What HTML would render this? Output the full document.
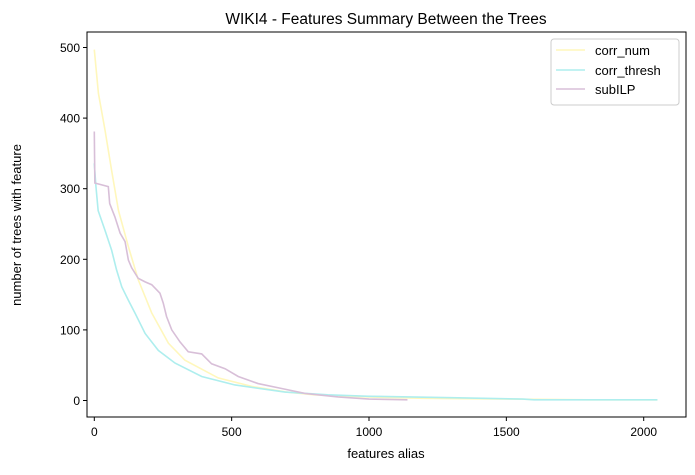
<!DOCTYPE html>
<html><head><meta charset="utf-8"><style>
html,body{margin:0;padding:0;background:#fff;}
svg text{font-family:"Liberation Sans","DejaVu Sans",sans-serif;fill:#000;}
</style></head><body>
<svg id="chart" width="695" height="470" viewBox="0 0 695 470" xmlns="http://www.w3.org/2000/svg">
<rect x="0" y="0" width="695" height="470" fill="#fff"/>
<text x="386" y="24" font-size="15.5" text-anchor="middle">WIKI4 - Features Summary Between the Trees</text>
<text x="386" y="458" font-size="13" text-anchor="middle">features alias</text>
<text transform="translate(21,225) rotate(-90)" font-size="13" text-anchor="middle">number of trees with feature</text>
<g id="xticks"></g>
<g id="yticks"></g>
<g id="series"></g>
<rect x="87" y="32" width="599" height="385" fill="none" stroke="#000" stroke-width="1"/>
<g>
<rect x="551" y="39" width="128" height="66" rx="3" fill="#fff" fill-opacity="0.8" stroke="#ccc"/>
<g><line x1="556" y1="50" x2="585" y2="50" stroke="#fff7bc" stroke-width="1.5"/><text x="595" y="55" font-size="13">corr_num</text></g>
<g><line x1="556" y1="70" x2="585" y2="70" stroke="#aeeeee" stroke-width="1.5"/><text x="595" y="75" font-size="13">corr_thresh</text></g>
<g><line x1="556" y1="89" x2="585" y2="89" stroke="#d8bfd8" stroke-width="1.5"/><text x="595" y="94" font-size="13">subILP</text></g>
</g>
</svg>
<script>
const xTicks=[0,500,1000,1500,2000];
const yTicks=[0,100,200,300,400,500];
const seriesNames=["corr_num","corr_thresh","subILP"];
const corrNumX=[0,15,39,63,88,124,160,209,270,330,451,573,700,800,1000,1200,1500,1800,2050];
const corrNumY=[497,435,383,326,269,218,171,124,81,57,32,20,12,8,5,3,2,1,1];
const corrThreshX=[0,1,6,14,39,63,81,100,124,148,185,233,294,391,512,694,850,1000,1300,1560,1600,2050];
const corrThreshY=[336,330,303,269,241,213,185,161,142,124,95,71,53,34,22,12,8,6,4,2,1,1];
const subIlpX=[0,2,51,56,75,94,112,124,136,160,185,209,239,251,263,282,312,342,391,427,476,524,596,682,767,887,1000,1140];
const subIlpY=[381,308,303,279,260,237,225,199,188,173,168,164,152,138,119,100,83,69,66,52,45,34,24,17,10,5,2,1];
const NS="http://www.w3.org/2000/svg";
function xs(v){return 94.3+v*0.2747;}
function ys(v){return 400.5-v*0.706;}
const xg=document.getElementById('xticks');
xTicks.forEach(t=>{
 const l=document.createElementNS(NS,'line');
 l.setAttribute('x1',xs(t));l.setAttribute('x2',xs(t));l.setAttribute('y1',417);l.setAttribute('y2',421);l.setAttribute('stroke','#000');
 
 
 xg.appendChild(l);
 const tx=document.createElementNS(NS,'text');
 tx.setAttribute('x',xs(t));tx.setAttribute('y',436);tx.setAttribute('font-size','12');tx.setAttribute('text-anchor','middle');tx.textContent=t;
 
 
 xg.appendChild(tx);
});
const yg=document.getElementById('yticks');
yTicks.forEach(t=>{
 const l=document.createElementNS(NS,'line');
 l.setAttribute('x1',83);l.setAttribute('x2',87);l.setAttribute('y1',ys(t));l.setAttribute('y2',ys(t));l.setAttribute('stroke','#000');
 
 
 yg.appendChild(l);
 const tx=document.createElementNS(NS,'text');
 tx.setAttribute('x',80);tx.setAttribute('y',ys(t)+4.5);tx.setAttribute('font-size','12');tx.setAttribute('text-anchor','end');tx.textContent=t;
 
 
 yg.appendChild(tx);
});
const sg=document.getElementById('series');
function draw(X,Y,color,name){
 const p=document.createElementNS(NS,'polyline');
 p.setAttribute('points',X.map((x,i)=>xs(x)+','+ys(Y[i])).join(' '));
 p.setAttribute('fill','none');p.setAttribute('stroke',color);p.setAttribute('stroke-width','1.6');
 
 
 sg.appendChild(p);
}
draw(corrNumX,corrNumY,'#fff7bc','line-corr-num');
draw(corrThreshX,corrThreshY,'#aeeeee','line-corr-thresh');
draw(subIlpX,subIlpY,'#d8bfd8','line-subilp');
</script>
</body></html>
